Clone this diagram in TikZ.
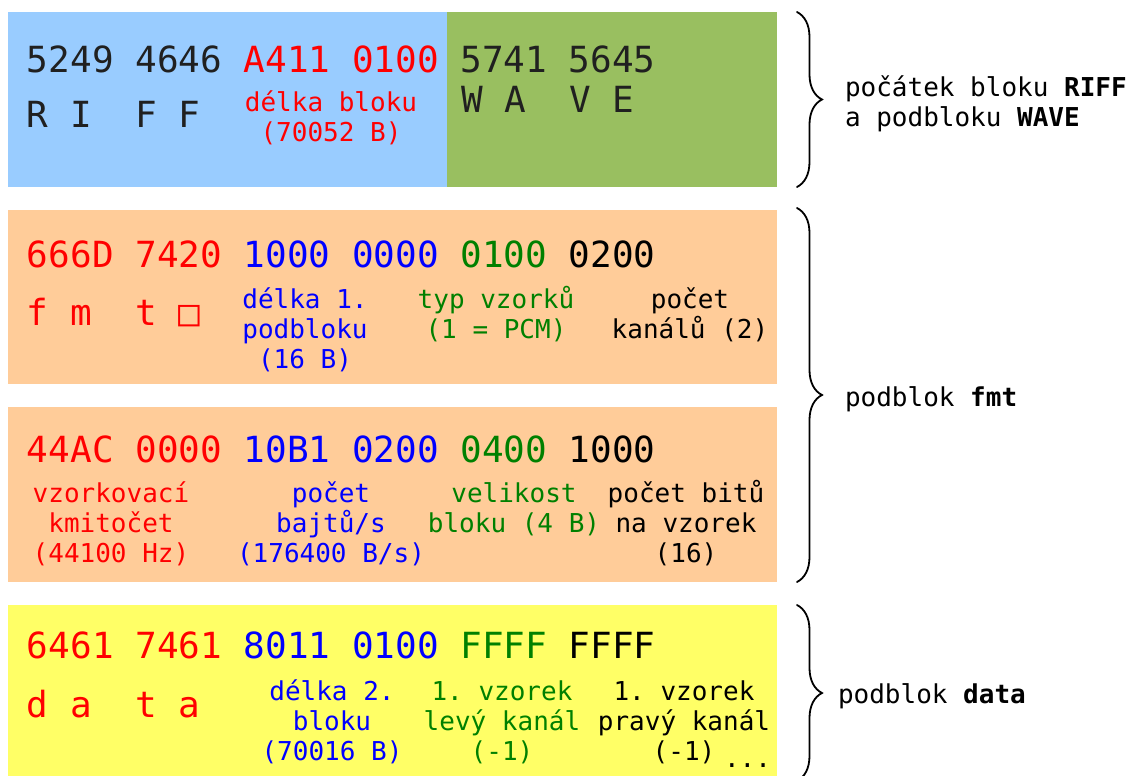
\documentclass[tikz,border=0pt]{standalone}
\usepackage{fontspec}
\setmonofont{DejaVu Sans Mono}
\usetikzlibrary{decorations.pathreplacing}
\definecolor{riffblue}{HTML}{99CCFF}
\definecolor{wavegreen}{HTML}{99BF60}
\definecolor{fmtorange}{HTML}{FFCC99}
\definecolor{datayellow}{HTML}{FFFF66}
\definecolor{ink}{HTML}{202020}
\definecolor{fgred}{HTML}{FF0000}
\definecolor{fgblue}{HTML}{0000FF}
\definecolor{fggreen}{HTML}{008000}
\begin{document}
\begin{tikzpicture}[x=1pt,y=-1pt,
  every node/.style={inner sep=0pt, outer sep=0pt},
  hex/.style={anchor=base west, font=\ttfamily\fontsize{36}{40}\selectfont},
  % multi-line notes: the base anchor sits on the last line
  note/.style={anchor=base, align=center, font=\ttfamily\fontsize{26}{30}\selectfont},
  side/.style={anchor=base west, align=left, font=\ttfamily\fontsize{26}{30}\selectfont},
  brc/.style={decorate, decoration={brace, amplitude=25pt}, line width=1.8pt, line cap=round}]
\useasboundingbox (0,0) rectangle (1144,776);

% coloured byte blocks
\fill[riffblue]   (8,12)  rectangle (447,187);
\fill[wavegreen]  (447,12) rectangle (777,187);
\fill[fmtorange]  (8,210) rectangle (777,384);
\fill[fmtorange]  (8,407) rectangle (777,582);
\fill[datayellow] (8,605) rectangle (777,776);

% RIFF header
\node[hex] (h1) at (27,73) {\textcolor{ink}{5249 4646} \textcolor{fgred}{A411 0100} \textcolor{ink}{5741 5645}};
\node[hex, text=ink] (a1) at (27,128) {R~I~~F~F};
\node[hex, text=ink] (a1w) at (461,112) {W~A~~V~E};
\node[note, text=fgred] (n1) at (331,141) {délka bloku\\(70052 B)};

% fmt subchunk, first part
\node[hex] (h2) at (27,267) {\textcolor{fgred}{666D 7420} \textcolor{fgblue}{1000 0000} \textcolor{fggreen}{0100} \textcolor{black}{0200}};
\node[hex, text=fgred] (a2) at (27,325) {f~m~~t~□};
\node[note, text=fgblue] (n2a) at (305,368) {délka 1.\\podbloku\\(16 B)};
\node[note, text=fggreen] (n2b) at (496,338) {typ vzorků\\(1 = PCM)};
\node[note, text=black] (n2c) at (690,338) {počet\\kanálů (2)};

% fmt subchunk, second part
\node[hex] (h3) at (27,462) {\textcolor{fgred}{44AC 0000} \textcolor{fgblue}{10B1 0200} \textcolor{fggreen}{0400} \textcolor{black}{1000}};
\node[note, text=fgred] (n3a) at (111,562) {vzorkovací\\kmitočet\\(44100 Hz)};
\node[note, text=fgblue] (n3b) at (331,562) {počet\\bajtů/s\\(176400 B/s)};
\node[note, text=fggreen] (n3c) at (514,532) {velikost\\bloku (4 B)};
\node[note, text=black] (n3d) at (686,562) {počet bitů\\na vzorek\\(16)};

% data subchunk
\node[hex] (h4) at (27,658) {\textcolor{fgred}{6461 7461} \textcolor{fgblue}{8011 0100} \textcolor{fggreen}{FFFF} \textcolor{black}{FFFF}};
\node[hex, text=fgred] (a4) at (27,717) {d~a~~t~a};
\node[note, text=fgblue] (n4a) at (332,760) {délka 2.\\bloku\\(70016 B)};
\node[note, text=fggreen] (n4b) at (502,760) {1. vzorek\\levý kanál\\(-1)};
\node[note, text=black] (n4c) at (684,760) {1. vzorek\\pravý kanál\\(-1)};
\node[side, text=black] (more) at (724,767) {...};

% braces and their captions
\coordinate (t1) at (797,12);  \coordinate (e1) at (797,187);
\coordinate (t2) at (797,208); \coordinate (e2) at (797,582);
\coordinate (t3) at (797,605); \coordinate (e3) at (797,781);
\draw[brc] (t1) -- (e1);
\draw[brc] (t2) -- (e2);
\draw[brc] (t3) -- (e3);

\node[side] (c1) at (845,126) {počátek bloku \textbf{RIFF}\\a podbloku \textbf{WAVE}};
\node[side] (c2) at (845,406) {podblok \textbf{fmt}};
\node[side] (c3) at (838,703) {podblok \textbf{data}};
\end{tikzpicture}
\end{document}
